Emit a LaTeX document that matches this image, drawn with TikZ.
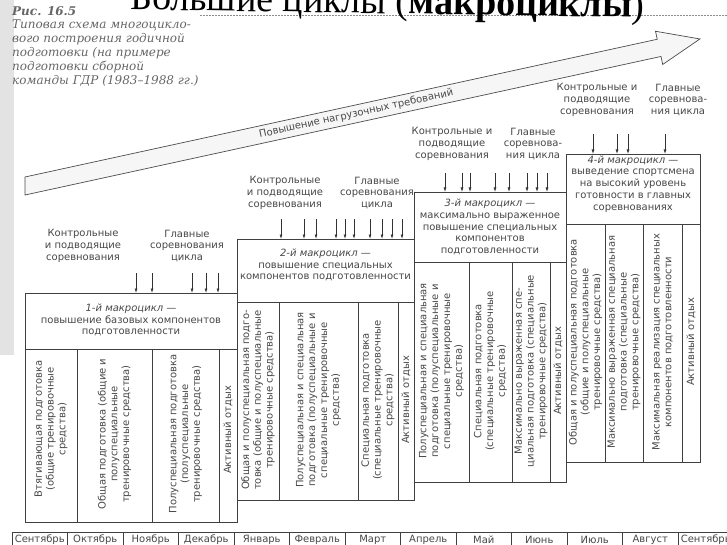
\documentclass[tikz,border=0pt]{standalone}
\usepackage{fontspec}
\setmainfont{DejaVu Sans}
\newfontfamily\capfont{DejaVu Serif}
\newfontfamily\headfont{Liberation Serif}
\usetikzlibrary{arrows.meta}

\tikzset{
  txt/.style={text=black!72, font=\fontsize{10}{11.8}\selectfont, align=center, inner sep=0pt},
  coltxt/.style={txt, rotate=90},
  boxline/.style={draw=black!75, line width=0.6pt},
  compet/.style={draw=black!80, line width=0.7pt, -{Latex[length=4.5pt,width=3pt]}},
}

\begin{document}
\begin{tikzpicture}[x=1pt, y=-1pt]
  \useasboundingbox (0,0) rectangle (727,545);

  % 0. Scan edge, title and caption
  \fill[gray!22] (0,0) rectangle (14,355);
  \draw[black!45, dash pattern=on 1.5pt off 1.5pt, line width=0.6pt] (200,15) -- (727,15);
  \node (title) [anchor=base west, inner sep=0pt, rotate=-0.9, font=\headfont\fontsize{38}{40}\selectfont] at (130,9.5) {Большие циклы (\textbf{макроциклы})};
  \node (caption) [anchor=north west, align=left, inner sep=0pt, text=black!60, font=\capfont\itshape\fontsize{12}{13.8}\selectfont] at (12,6) {\textbf{Рис. 16.5}\\Типовая схема многоцикло-\\вого построения годичной\\подготовки (на примере\\подготовки сборной\\команды ГДР (1983–1988 гг.)};

  % 1. Big arrow (rising load)
  \begin{scope}[shift={(25,186)}, rotate=12.29]
    \filldraw[fill=gray!7, draw=black!70, line width=0.7pt] (1.9,-8.8) -- (649,-8.8) -- (649,-17) -- (690.8,0) -- (649,17) -- (649,8.8) -- (-1.9,8.8) -- cycle;
    \node (load) [txt, transform shape] at (339,0) {Повышение нагрузочных требований};
  \end{scope}

  % 2. Macrocycle boxes (frame, header line, columns)
  \draw[boxline] (25,293) rectangle (237,522);
  \draw[boxline] (25,349) -- (237,349);
  \foreach \x in {77,152,219} \draw[boxline] (\x,349) -- (\x,522);

  \draw[boxline] (237,239) rectangle (414,500);
  \draw[boxline] (237,302) -- (414,302);
  \foreach \x in {279,358,398} \draw[boxline] (\x,302) -- (\x,500);

  \draw[boxline] (414,192) rectangle (566,482);
  \draw[boxline] (414,262) -- (566,262);
  \foreach \x in {469,512,550} \draw[boxline] (\x,262) -- (\x,482);

  \draw[boxline] (566,154) rectangle (700,462);
  \draw[boxline] (566,224) -- (700,224);
  \foreach \x in {605,643,682} \draw[boxline] (\x,224) -- (\x,462);

  % Headers
  \node (mc1) [txt] at (131,320) {\textit{1-й макроцикл —}\\повышение базовых компонентов\\подготовленности};
  \node (mc2) [txt] at (325.5,265) {\textit{2-й макроцикл —}\\повышение специальных\\компонентов подготовленности};
  \node (mc3) [txt] at (490,227) {\textit{3-й макроцикл —}\\максимально выраженное\\повышение специальных\\компонентов\\подготовленности};
  \node (mc4) [txt] at (633,184) {\textit{4-й макроцикл —}\\выведение спортсмена\\на высокий уровень\\готовности в главных\\соревнованиях};

  % Columns, 1-й макроцикл
  \node (c11) [coltxt] at (51,429) {Втягивающая подготовка\\(общие тренировочные\\средства)};
  \node (c12) [coltxt] at (114.5,434) {Общая подготовка (общие и\\полуспециальные\\тренировочные средства)};
  \node (c13) [coltxt] at (185.5,434) {Полуспециальная подготовка\\(полуспециальные\\тренировочные средства)};
  \node (c14) [coltxt] at (228,430) {Активный отдых};

  % Columns, 2-й макроцикл
  \node (c21) [coltxt] at (258,400) {Общая и полуспециальная подго-\\товка (общие и полуспециальные\\тренировочные средства)};
  \node (c22) [coltxt] at (318.5,400) {Полуспециальная и специальная\\подготовка (полуспециальные и\\специальные тренировочные\\средства)};
  \node (c23) [coltxt] at (378,400) {Специальная подготовка\\(специальные тренировочные\\средства)};
  \node (c24) [coltxt] at (406,400) {Активный отдых};

  % Columns, 3-й макроцикл
  \node (c31) [coltxt] at (441.5,371) {Полуспециальная и специальная\\подготовка (полуспециальные и\\специальные тренировочные\\средства)};
  \node (c32) [coltxt] at (490.5,371) {Специальная подготовка\\(специальные тренировочные\\средства)};
  \node (c33) [coltxt] at (531,371) {Максимально выраженная спе-\\циальная подготовка (специальные\\тренировочные средства)};
  \node (c34) [coltxt] at (558,371) {Активный отдых};

  % Columns, 4-й макроцикл
  \node (c41) [coltxt] at (585.5,342) {Общая и полуспециальная подготовка\\(общие и полуспециальные\\тренировочные средства)};
  \node (c42) [coltxt] at (624,342) {Максимально выраженная специальная\\подготовка (специальные\\тренировочные средства)};
  \node (c43) [coltxt] at (662.5,342) {Максимальная реализация специальных\\компонентов подготовленности};
  \node (c44) [coltxt] at (691,342) {Активный отдых};

  % 3. Competitions above each box
  \node (ctl1) [txt] at (83,246) {Контрольные\\и подводящие\\соревнования};
  \node (main1) [txt] at (187,246) {Главные\\соревнования\\цикла};
  \foreach \x [count=\i] in {136,152,192,206,218} {
    \coordinate (s1\i) at (\x,273);
    \coordinate (e1\i) at (\x,293);
    \draw[compet] (s1\i) -- (e1\i);
  }

  \node (ctl2) [txt] at (285,193) {Контрольные\\и подводящие\\соревнования};
  \node (main2) [txt] at (377,193) {Главные\\соревнования\\цикла};
  \foreach \x [count=\i] in {281,304,316,336,345,354,370,382,392,402} {
    \coordinate (s2\i) at (\x,219);
    \coordinate (e2\i) at (\x,239);
    \draw[compet] (s2\i) -- (e2\i);
  }

  \node (ctl3) [txt] at (452,144) {Контрольные и\\подводящие\\соревнования};
  \node (main3) [txt] at (533,144) {Главные\\соревнова-\\ния цикла};
  \foreach \x [count=\i] in {445,462,470,495,509,527,537,547} {
    \coordinate (s3\i) at (\x,173);
    \coordinate (e3\i) at (\x,192);
    \draw[compet] (s3\i) -- (e3\i);
  }

  \node (ctl4) [txt] at (597,100) {Контрольные и\\подводящие\\соревнования};
  \node (main4) [txt] at (678,100) {Главные\\соревнова-\\ния цикла};
  \foreach \x [count=\i] in {593,617,628,665} {
    \coordinate (s4\i) at (\x,134);
    \coordinate (e4\i) at (\x,154);
    \draw[compet] (s4\i) -- (e4\i);
  }

  % 4. Months
  \draw[boxline] (12,532) -- (727,532);
  \foreach \m [count=\i from 0] in {Сентябрь,Октябрь,Ноябрь,Декабрь,Январь,Февраль,Март,Апрель,Май,Июнь,Июль,Август,Сентябрь} {
    \draw[boxline] ({12+55.5*\i},532) -- ({12+55.5*\i},545);
    \node (m\i) [txt] at ({39.75+55.5*\i},540) {\m};
  }
\end{tikzpicture}
\end{document}
